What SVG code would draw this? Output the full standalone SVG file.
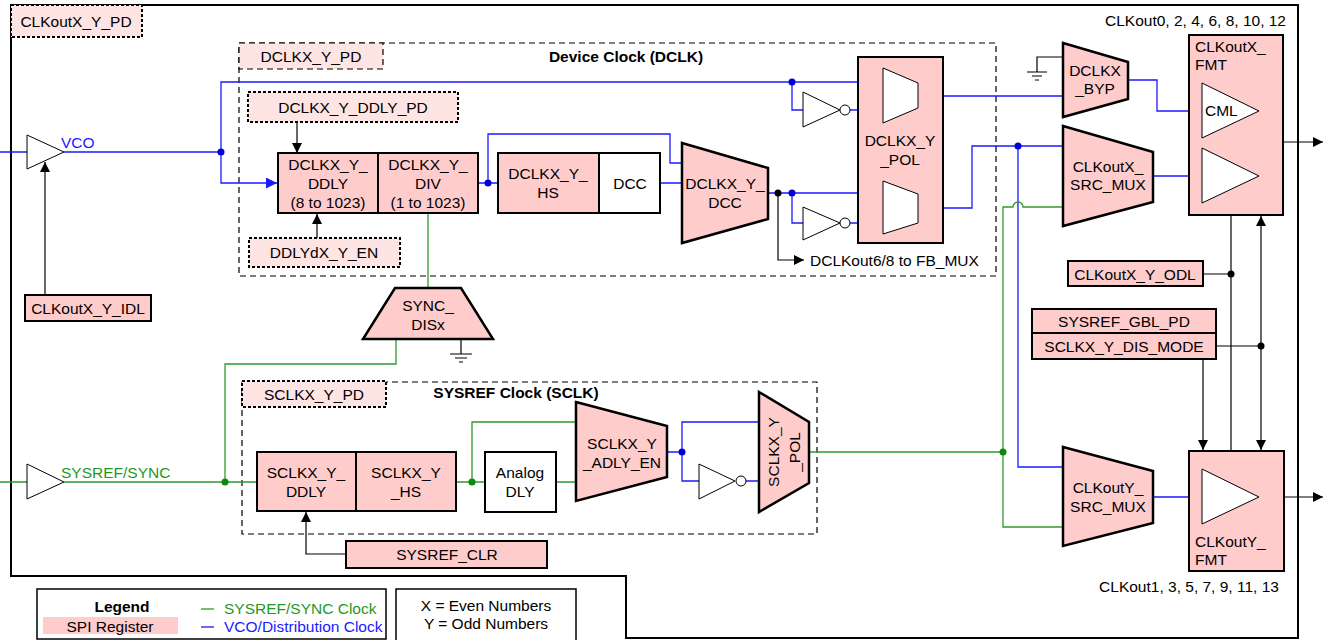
<svg xmlns="http://www.w3.org/2000/svg" width="1325" height="640" viewBox="0 0 1325 640">
<defs>
<style>
.t{font-family:"Liberation Sans",Arial,sans-serif;font-size:15.5px;text-anchor:middle;dominant-baseline:central;fill:#000}
.tl{text-anchor:start}
.tb{font-weight:bold}
.reg{fill:#ffcccc;stroke:#000;stroke-width:2}
.regd{fill:#ffe4e4;stroke:#000;stroke-width:2;stroke-dasharray:3 2}
.wht{fill:#fff;stroke:#000;stroke-width:2}
.mux{fill:#ffcccc;stroke:#000;stroke-width:2.5;stroke-linejoin:miter}
.wmux{fill:#fff;stroke:#000;stroke-width:1}
.buf{fill:#fff;stroke:#000;stroke-width:1}
.b{fill:none;stroke:#1a1aff;stroke-width:1.3}
.g{fill:none;stroke:#2e9a2e;stroke-width:1.3}
.k{fill:none;stroke:#000;stroke-width:1.2}
.dash{fill:none;stroke:#000;stroke-width:1.2;stroke-dasharray:6 4}
.jb{fill:#0000d0}
.jg{fill:#0a8a0a}
.jk{fill:#000}
</style>
<marker id="ak" viewBox="0 0 10 10" refX="10" refY="5" markerWidth="10" markerHeight="10" markerUnits="userSpaceOnUse" orient="auto-start-reverse"><path d="M0,0 L10,5 L0,10 z" fill="#000"/></marker>
<marker id="ab" viewBox="0 0 10 10" refX="10" refY="5" markerWidth="11" markerHeight="11" markerUnits="userSpaceOnUse" orient="auto"><path d="M0,0 L10,5 L0,10 z" fill="#1a1aff"/></marker>
</defs>
<rect width="1325" height="640" fill="#fff"/>

<path d="M11,5 H1298 V638 H626 V576 H11 Z" fill="none" stroke="#000" stroke-width="2"/>
<rect x="239" y="43" width="757" height="233" class="dash"/>
<rect x="242" y="382" width="575" height="152" class="dash"/>
<text class="t tb" x="626" y="56">Device Clock (DCLK)</text>
<text class="t tb" x="516" y="392">SYSREF Clock (SCLK)</text>
<text class="t" x="1286" y="20" style="text-anchor:end">CLKout0, 2, 4, 6, 8, 10, 12</text>
<text class="t" x="1189" y="586">CLKout1, 3, 5, 7, 9, 11, 13</text>

<g id="connectors">
<path class="b" d="M0,152 H27 M64,152 H221 M221,152 V82 H883 M478,183 H498 M488,183 V134 H670 V163 H682 M660,183 H682 M792,82 V110 H803 M850,110 H883 M768,193 H883 M792,193 V223 H803 M850,223 H883 M918,96 H1063 M918,208 H972 V146 H1063 M1018,146 V467 H1063 M1128,80 H1157 V111 H1202 M1153,176 H1202 M1153,497 H1202 M667,452 H682 M682,452 V422 H759 M682,452 V481 H699 M746,481 H759"/>
<path class="b" d="M221,152 V183 H277" marker-end="url(#ab)"/>
<path class="g" d="M0,482 H27 M64,482 H257 M225,482 V364 H396 V339 M428,213 V288 M456,482 H485 M472,482 V422 H576 M556,482 H576 M809,452 H1003 M1003,452 V207 H1013 A5,5 0 0 1 1023,207 H1063 M1003,452 V527 H1063"/>
<path class="k" d="M45,295 V162" marker-end="url(#ak)"/>
<path class="k" d="M297,122 V153" marker-end="url(#ak)"/>
<path class="k" d="M317,238 V214" marker-end="url(#ak)"/>
<path class="k" d="M346,554 H306 V512" marker-end="url(#ak)"/>
<path class="k" d="M778,193 V260 H804" marker-end="url(#ak)"/>
<path class="k" d="M1259,111 H1271 V176 H1259"/>
<path class="k" d="M1271,142 H1323" marker-end="url(#ak)"/>
<path class="k" d="M1259,497 H1323" marker-end="url(#ak)"/>
<path class="k" d="M1231,190 V483" marker-start="url(#ak)" marker-end="url(#ak)"/>
<path class="k" d="M1261,216 V450" marker-start="url(#ak)" marker-end="url(#ak)"/>
<path class="k" d="M1203,274 H1231 M1216,346 H1261"/>
<path class="k" d="M1203,359 V450" marker-end="url(#ak)"/>
<path class="k" d="M461,339 V354 M450,354 H472 M455,358 H467 M459,362 H463"/>
<path class="k" d="M1063,57 H1037 V72 M1027,72 H1047 M1032,76 H1042 M1035,80 H1039"/>
<circle class="jb" cx="221" cy="152" r="3.5"/>
<circle class="jb" cx="488" cy="183" r="3.5"/>
<circle class="jb" cx="792" cy="82" r="3.5"/>
<circle class="jb" cx="792" cy="193" r="3.5"/>
<circle class="jb" cx="1018" cy="146" r="3.5"/>
<circle class="jb" cx="682" cy="452" r="3.5"/>
<circle class="jk" cx="778" cy="193" r="3.5"/>
<circle class="jk" cx="1271" cy="142" r="3.5"/>
<circle class="jk" cx="1231" cy="274" r="3.5"/>
<circle class="jk" cx="1261" cy="346" r="3.5"/>
<circle class="jg" cx="225" cy="482" r="3.5"/>
<circle class="jg" cx="472" cy="482" r="3.5"/>
<circle class="jg" cx="1003" cy="452" r="3.5"/>
</g>

<g id="clkout_pd"><rect class="regd" x="11" y="5" width="131" height="32"/><text class="t" x="76" y="21">CLKoutX_Y_PD</text></g>
<g id="dclk_pd"><rect x="239" y="43" width="144" height="26" fill="#ffe4e4" stroke="#000" stroke-width="1.2" stroke-dasharray="6 4"/><text class="t" x="311" y="56">DCLKX_Y_PD</text></g>
<g id="vco_buf"><path class="buf" d="M27,135 L64,152 L27,169 Z"/><text class="t tl" x="61" y="142" style="fill:#1a1aff">VCO</text></g>
<g id="idl"><rect class="reg" x="25" y="295" width="126" height="26"/><text class="t" x="88" y="308">CLKoutX_Y_IDL</text></g>
<g id="ddly_pd"><rect class="regd" x="248" y="92" width="210" height="30"/><text class="t" x="353" y="107">DCLKX_Y_DDLY_PD</text></g>
<g id="ddly"><rect class="reg" x="278" y="153" width="100" height="60"/><text class="t" x="328" y="164">DCLKX_Y_</text><text class="t" x="328" y="183">DDLY</text><text class="t" x="328" y="202">(8 to 1023)</text></g>
<g id="div"><rect class="reg" x="378" y="153" width="100" height="60"/><text class="t" x="428" y="164">DCLKX_Y_</text><text class="t" x="428" y="183">DIV</text><text class="t" x="428" y="202">(1 to 1023)</text></g>
<g id="ddly_en"><rect class="regd" x="249" y="238" width="151" height="29"/><text class="t" x="324" y="252">DDLYdX_Y_EN</text></g>
<g id="sync_dis"><path class="mux" d="M395,288 H461 L493,339 H363 Z"/><text class="t" x="428" y="305">SYNC_</text><text class="t" x="428" y="324">DISx</text></g>
<g id="hs"><rect class="reg" x="498" y="153" width="101" height="60"/><text class="t" x="548" y="173">DCLKX_Y_</text><text class="t" x="548" y="192">HS</text></g>
<g id="dcc"><rect class="wht" x="599" y="153" width="61" height="60"/><text class="t" x="630" y="183">DCC</text></g>
<g id="dcc_mux"><path class="mux" d="M682,143 L768,168 V219 L682,243 Z"/><text class="t" x="725" y="183">DCLKX_Y_</text><text class="t" x="725" y="202">DCC</text></g>
<g id="inv1"><path class="buf" d="M803,92 L840,110 L803,127 Z"/><circle cx="845" cy="110" r="5" fill="#fff" stroke="#000"/></g>
<g id="inv2"><path class="buf" d="M803,207 L840,223 L803,240 Z"/><circle cx="845" cy="223" r="5" fill="#fff" stroke="#000"/></g>
<text class="t tl" x="810" y="260">DCLKout6/8 to FB_MUX</text>
<g id="dclk_pol"><rect class="reg" x="858" y="57" width="85" height="186"/><path class="wmux" d="M883,68 L918,83 V108 L883,123 Z"/><path class="wmux" d="M883,181 L918,194 V223 L883,234 Z"/><text class="t" x="900" y="140">DCLKX_Y</text><text class="t" x="900" y="159">_POL</text></g>
<g id="byp"><path class="mux" d="M1063,43 L1128,62 V99 L1063,117 Z"/><text class="t" x="1095" y="70">DCLKX</text><text class="t" x="1095" y="88">_BYP</text></g>
<g id="x_src_mux"><path class="mux" d="M1063,126 L1153,152 V202 L1063,226 Z"/><text class="t" x="1108" y="166">CLKoutX_</text><text class="t" x="1108" y="184">SRC_MUX</text></g>
<g id="x_fmt"><rect class="reg" x="1189" y="35" width="94" height="180"/><text class="t tl" x="1195" y="46">CLKoutX_</text><text class="t tl" x="1195" y="64">FMT</text><path class="buf" d="M1202,83 L1259,111 L1202,138 Z"/><text class="t tl" x="1205" y="110">CML</text><path class="buf" d="M1202,148 L1259,176 L1202,203 Z"/></g>
<g id="odl"><rect class="reg" x="1068" y="261" width="135" height="25"/><text class="t" x="1135" y="274">CLKoutX_Y_ODL</text></g>
<g id="gbl_pd"><rect class="reg" x="1032" y="309" width="184" height="24"/><text class="t" x="1124" y="321">SYSREF_GBL_PD</text></g>
<g id="dis_mode"><rect class="reg" x="1032" y="333" width="184" height="26"/><text class="t" x="1124" y="346">SCLKX_Y_DIS_MODE</text></g>
<g id="y_src_mux"><path class="mux" d="M1063,447 L1153,471 V523 L1063,546 Z"/><text class="t" x="1108" y="487">CLKoutY_</text><text class="t" x="1108" y="506">SRC_MUX</text></g>
<g id="y_fmt"><rect class="reg" x="1189" y="451" width="95" height="120"/><path class="buf" d="M1202,469 L1259,497 L1202,524 Z"/><text class="t tl" x="1195" y="541">CLKoutY_</text><text class="t tl" x="1195" y="559">FMT</text></g>

<g id="sysref_buf"><path class="buf" d="M27,464 L64,482 L27,499 Z"/><text class="t tl" x="61" y="472" style="fill:#1f991f">SYSREF/SYNC</text></g>
<g id="sclk_pd"><rect class="regd" x="242" y="381" width="144" height="26"/><text class="t" x="314" y="394">SCLKX_Y_PD</text></g>
<g id="s_ddly"><rect class="reg" x="257" y="452" width="99" height="59"/><text class="t" x="306" y="472">SCLKX_Y_</text><text class="t" x="306" y="491">DDLY</text></g>
<g id="s_hs"><rect class="reg" x="356" y="452" width="100" height="59"/><text class="t" x="406" y="472">SCLKX_Y</text><text class="t" x="406" y="491">_HS</text></g>
<g id="sysref_clr"><rect class="reg" x="346" y="541" width="201" height="27"/><text class="t" x="447" y="554">SYSREF_CLR</text></g>
<g id="analog_dly"><rect class="wht" x="485" y="452" width="71" height="60"/><text class="t" x="520" y="472">Analog</text><text class="t" x="520" y="491">DLY</text></g>
<g id="adly_en"><path class="mux" d="M576,402 L667,426 V477 L576,501 Z"/><text class="t" x="622" y="443">SCLKX_Y</text><text class="t" x="622" y="462">_ADLY_EN</text></g>
<g id="inv3"><path class="buf" d="M699,464 L735,481 L699,499 Z"/><circle cx="741" cy="481" r="5" fill="#fff" stroke="#000"/></g>
<g id="sclk_pol"><path class="mux" d="M759,392 L809,422 V483 L759,512 Z"/><text class="t" transform="translate(773,452) rotate(-90)">SCLKX_Y</text><text class="t" transform="translate(794,452) rotate(-90)">_POL</text></g>

<g id="legend"><rect x="37" y="589" width="349" height="50" fill="#fff" stroke="#000" stroke-width="1.5"/><text class="t tb" x="122" y="606">Legend</text><rect x="43" y="617" width="135" height="17" fill="#ffcccc"/><text class="t" x="110" y="626">SPI Register</text><path d="M201,609 H214" stroke="#2e9a2e" stroke-width="1.3"/><text class="t tl" x="224" y="608" style="fill:#1f991f">SYSREF/SYNC Clock</text><path d="M201,627 H214" stroke="#1a1aff" stroke-width="1.3"/><text class="t tl" x="224" y="626" style="fill:#1a1aff">VCO/Distribution Clock</text></g>
<g id="xy"><rect x="396" y="589" width="180" height="52" fill="#fff" stroke="#000" stroke-width="1.5"/><text class="t" x="486" y="605">X = Even Numbers</text><text class="t" x="486" y="623">Y = Odd Numbers</text></g>
</svg>
